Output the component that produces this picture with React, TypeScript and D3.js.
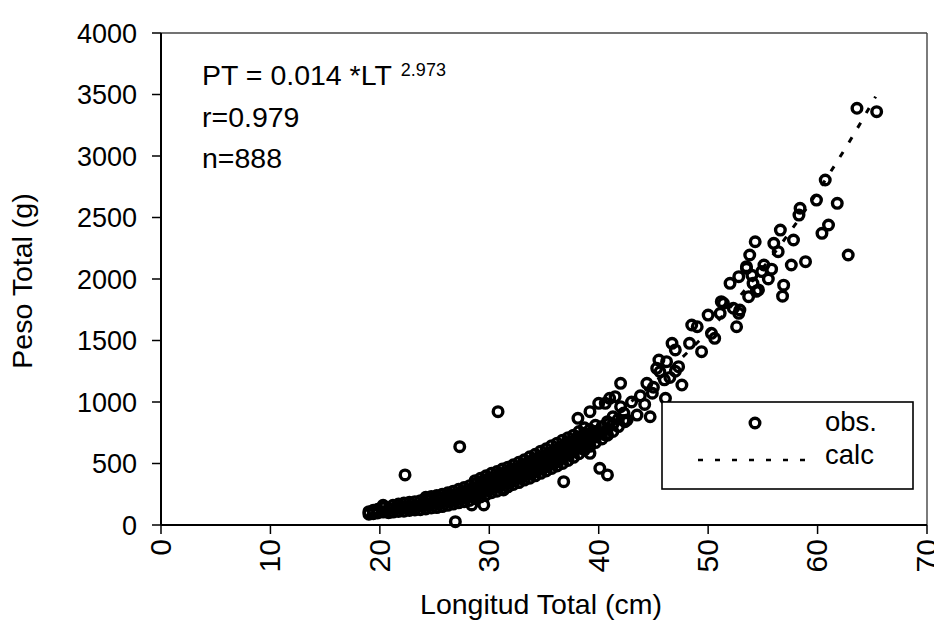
import React from "react";
import * as d3 from "d3";

// ---- data ----
const xTicks = [0, 10, 20, 30, 40, 50, 60, 70];
const yTicks = [0, 500, 1000, 1500, 2000, 2500, 3000, 3500, 4000];

// dense band of observations: [length, weights...] per length column
const bandColumns: [number, number[]][] = [
  [19.0, [88, 108]],
  [19.4, [92, 120]],
  [19.8, [98, 128]],
  [20.3, [105, 140, 160]],
  [20.8, [100, 130]],
  [21.2, [105, 135, 160]],
  [21.7, [110, 140, 170]],
  [22.2, [112, 145, 178]],
  [22.7, [118, 150, 185]],
  [23.2, [122, 155, 190]],
  [23.7, [125, 160, 198]],
  [24.2, [130, 165, 205, 225]],
  [24.7, [138, 172, 210, 232]],
  [25.2, [142, 178, 215, 240]],
  [25.7, [150, 185, 222, 250]],
  [26.2, [160, 195, 230, 262]],
  [26.7, [170, 205, 240, 275]],
  [27.2, [180, 215, 252, 290]],
  [27.7, [190, 228, 265, 305]],
  [28.2, [200, 240, 280, 320]],
  [28.7, [215, 255, 295, 335, 360]],
  [29.2, [228, 268, 310, 350, 380]],
  [29.7, [245, 285, 325, 365, 400]],
  [30.2, [262, 300, 340, 380, 420]],
  [30.7, [275, 315, 355, 395, 435]],
  [31.2, [295, 335, 375, 415, 455]],
  [31.7, [310, 350, 390, 430, 470]],
  [32.2, [330, 370, 410, 450, 490]],
  [32.7, [345, 385, 425, 465, 510]],
  [33.2, [365, 405, 445, 490, 530]],
  [33.7, [380, 420, 465, 510, 555]],
  [34.2, [400, 440, 485, 530, 575]],
  [34.7, [420, 460, 505, 550, 600]],
  [35.2, [440, 480, 525, 570, 620]],
  [35.7, [460, 500, 545, 590, 645]],
  [36.2, [480, 525, 570, 615, 665]],
  [36.7, [500, 545, 590, 640, 690]],
  [37.2, [525, 570, 615, 660, 710]],
  [37.7, [550, 595, 640, 685, 730]],
  [38.2, [580, 625, 670, 715, 760]],
  [38.7, [610, 655, 700, 745, 790]],
  [39.2, [640, 685, 730, 775]],
  [39.7, [670, 715, 760, 810]],
  [40.3, [700, 750, 800]],
  [40.8, [730, 780, 840]],
  [41.3, [760, 820, 880]],
  [41.8, [800, 860]],
  [42.3, [850, 910]],
];

// individually visible observations [length (cm), weight (g)]
const scatterPoints: [number, number][] = [
  [22.3, 407], [27.3, 637], [30.8, 921], [26.9, 27], [28.4, 163], [29.5, 163],
  [31.3, 285], [36.8, 352], [39.2, 583], [40.1, 461], [40.8, 407], [40.6, 732],
  [38.1, 867], [39.2, 921], [40.0, 989], [40.6, 989], [41.0, 1030], [41.5, 1043],
  [42.0, 962], [42.0, 1152], [42.4, 840], [42.6, 854], [43.5, 894], [44.7, 880],
  [44.4, 1152], [44.9, 1071], [46.1, 1030], [45.3, 1274], [45.5, 1341], [45.6, 1246],
  [46.7, 1477], [47.0, 1423], [47.6, 1138], [48.3, 1477], [49.4, 1409], [48.5, 1626],
  [49.0, 1612], [50.0, 1707], [51.1, 1721], [50.6, 1518], [50.3, 1558], [52.6, 1612],
  [52.8, 1721], [51.4, 1802], [51.2, 1816], [52.3, 1762], [52.9, 1748], [52.0, 1965],
  [52.8, 2019], [53.5, 2087], [53.8, 2195], [54.3, 2303], [54.1, 1965], [53.7, 1856],
  [54.6, 1911], [53.5, 2100], [55.1, 2114], [56.0, 2290], [56.4, 2222], [56.6, 2398],
  [57.8, 2317], [57.6, 2114], [58.9, 2141], [58.3, 2520], [58.4, 2575], [59.9, 2642],
  [60.4, 2371], [61.0, 2439], [60.7, 2805], [61.8, 2615], [62.8, 2195], [63.6, 3388],
  [65.4, 3360], [46.2, 1328], [47.3, 1287], [46.5, 1200], [47.0, 1250], [43.0, 1000],
  [43.8, 1050], [44.2, 980], [45.0, 1120], [46.0, 1180], [56.8, 1860], [56.9, 1950],
  [55.5, 2000], [55.8, 2080], [54.9, 2060], [54.4, 1900], [54.0, 2030],
];

// fitted curve PT = 0.014 * LT^2.973
const calcLength = [19, 22, 25, 28, 31, 34, 37, 40, 43, 46, 49, 52, 55, 58, 61, 63, 65.3];
const calcWeight = [89, 137, 201, 281, 380, 500, 643, 811, 1006, 1229, 1482, 1769, 2090, 2448, 2845, 3130, 3482];

const FONT = "'Liberation Sans', Arial, sans-serif";
const INK = "#000";

export default function App() {
  const x = d3.scaleLinear().domain([0, 70]).range([161, 927]);
  const y = d3.scaleLinear().domain([0, 4000]).range([525, 33]);

  const obs: [number, number][] = [];
  bandColumns.forEach(([l, ws]) => ws.forEach((w) => obs.push([l, w])));
  scatterPoints.forEach((p) => obs.push(p));

  const line = d3
    .line<number>()
    .x((_, i) => x(calcLength[i]))
    .y((d) => y(d))
    .curve(d3.curveMonotoneX);

  const [x0, x1] = x.range();
  const [y0, y1] = y.range();

  return (
    <svg
      width={934}
      height={622}
      style={{ position: "absolute", left: 0, top: 0, background: "#fff" }}
      fontFamily={FONT}
    >
      <rect width={934} height={622} fill="#fff" />
      {/* frame */}
      <line x1={x0} x2={x1} y1={y1} y2={y1} stroke="#444" strokeWidth={1.4} />
      <line x1={x1} x2={x1} y1={y1} y2={y0} stroke="#444" strokeWidth={1.4} />
      <line x1={x0} x2={x0} y1={y1} y2={y0} stroke={INK} strokeWidth={2} />
      <line x1={x0} x2={x1} y1={y0} y2={y0} stroke={INK} strokeWidth={2} />

      {/* y ticks */}
      {yTicks.map((t) => (
        <g key={"y" + t}>
          <line x1={x0 - 9} x2={x0} y1={y(t)} y2={y(t)} stroke={INK} strokeWidth={1.5} />
          <text x={137} y={y(t)} dy="0.36em" textAnchor="end" fontSize={27} fill={INK}>
            {t}
          </text>
        </g>
      ))}
      {/* x ticks */}
      {xTicks.map((t) => (
        <g key={"x" + t}>
          <line x1={x(t)} x2={x(t)} y1={y0} y2={y0 + 9} stroke={INK} strokeWidth={1.5} />
          <text
            transform={`translate(${x(t) - 1},${539}) rotate(-90)`}
            dy="0.36em"
            textAnchor="end"
            fontSize={30}
            fill={INK}
          >
            {t}
          </text>
        </g>
      ))}

      {/* axis titles */}
      <text x={541} y={614} textAnchor="middle" fontSize={28.5} fill={INK}>
        Longitud Total (cm)
      </text>
      <text
        transform={`translate(${32},${281}) rotate(-90)`}
        textAnchor="middle"
        fontSize={28.5}
        fill={INK}
      >
        Peso Total (g)
      </text>

      {/* observations */}
      {obs.map(([l, w], i) => (
        <circle key={i} cx={x(l)} cy={y(w)} r={4.8} fill="none" stroke={INK} strokeWidth={3.4} />
      ))}

      {/* calc line */}
      <path d={line(calcWeight) || ""} fill="none" stroke={INK} strokeWidth={3} strokeDasharray="6 11" />

      {/* annotation */}
      <text x={202} y={85} fontSize={28.5} fill={INK}>
        PT = 0.014 *LT
        <tspan dx={9} dy={-9} fontSize={18}>2.973</tspan>
      </text>
      <text x={202} y={127} fontSize={28.5} fill={INK}>r=0.979</text>
      <text x={202} y={168} fontSize={28.5} fill={INK}>n=888</text>

      {/* legend */}
      <rect x={662} y={402} width={251} height={87} fill="#fff" stroke={INK} strokeWidth={1.6} />
      <circle cx={755} cy={423} r={4.8} fill="none" stroke={INK} strokeWidth={3.4} />
      <text x={825} y={431} fontSize={27.5} fill={INK}>obs.</text>
      <line x1={698} x2={808} y1={460} y2={460} stroke={INK} strokeWidth={2.5} strokeDasharray="5 12" />
      <text x={825} y={464} fontSize={27.5} fill={INK}>calc</text>
    </svg>
  );
}
